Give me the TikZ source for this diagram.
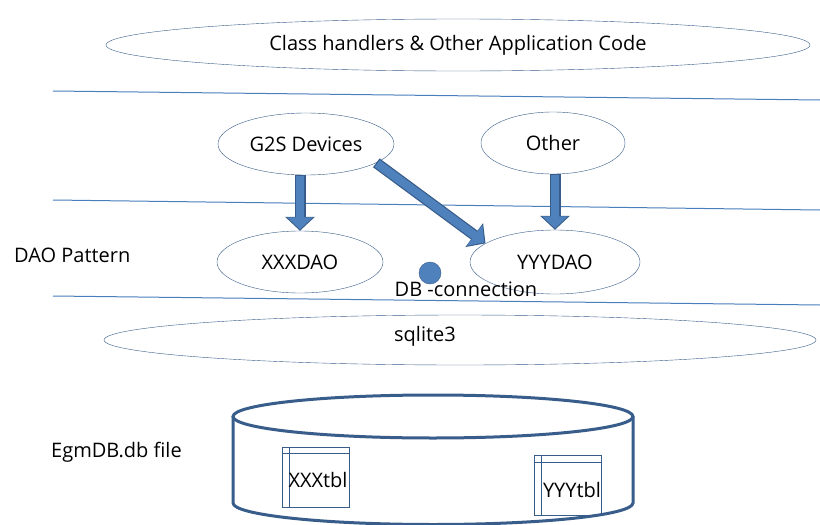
\documentclass[tikz,border=0pt]{standalone}
\usepackage{fontspec}
\setmainfont{Open Sans}
\usetikzlibrary{positioning,arrows.meta,shapes.geometric,calc}
\definecolor{lineblue}{RGB}{74,126,187}
\definecolor{edgeblue}{RGB}{56,93,138}
\definecolor{fillblue}{RGB}{79,129,189}
\tikzset{
  txt/.style={font=\fontsize{20}{24}\selectfont,inner sep=1pt},
  layer/.style={ellipse,draw=edgeblue,thin,fill=white,inner sep=0pt,txt},
  sepline/.style={lineblue,line width=1pt},
  blockout/.style={edgeblue,line width=11pt,-{Triangle[length=14pt,width=29pt]}},
  blockin/.style={fillblue,line width=8.5pt,-{Triangle[length=12pt,width=25pt]},
                  shorten >=1.5pt,shorten <=1.2pt},
  tblbox/.style={draw=edgeblue,thick,minimum width=67pt,minimum height=60pt,inner sep=0pt},
}

\begin{document}
\begin{tikzpicture}[x=1pt,y=-1pt]
\useasboundingbox (0,0) rectangle (820,525);

% ------------------------------------------------ separators
\draw[sepline] (53,91) -- (820,100);
\draw[sepline] (53,200) -- (820,210);
\draw[sepline] (53,296) -- (820,305);

% ------------------------------------------------ application layer
\node[layer,minimum width=704pt,minimum height=52pt] (app) at (458,45)
  {Class handlers \& Other Application Code};

% ------------------------------------------------ devices / DAO
\node[layer,minimum width=176pt,minimum height=62pt] (g2s) at (306,144) {G2S Devices};
\node[layer,minimum width=144pt,minimum height=62pt] (other) at (553,143) {Other};
\node[layer,minimum width=166pt,minimum height=62pt] (xxxdao) at (300,262) {XXXDAO};
\node[layer,minimum width=170pt,minimum height=64pt] (yyydao) at (555,262) {YYYDAO};
\node[txt,anchor=west] (daolbl) at (13,255) {DAO Pattern};

\node[circle,draw=edgeblue,fill=fillblue,minimum size=22pt,inner sep=0pt] (dbconn) at (430,273) {};
\node[txt,anchor=north] (dbconnlbl) at (466,281) {DB -connection};

% ------------------------------------------------ arrows
\draw[blockout] (g2s.south -| xxxdao.north) -- (xxxdao.north);
\draw[blockin]  (g2s.south -| xxxdao.north) -- (xxxdao.north);
\draw[blockout] (other.south -| yyydao.north) -- (yyydao.north);
\draw[blockin]  (other.south -| yyydao.north) -- (yyydao.north);
\draw[blockout] (g2s.-15) -- (yyydao.165);
\draw[blockin]  (g2s.-15) -- (yyydao.165);

% ------------------------------------------------ sqlite3
\node[layer,minimum width=712pt,minimum height=50pt] (sqlite) at (460,340) {};
\node[txt] (sqlitelbl) at (425,336) {sqlite3};

% ------------------------------------------------ db file
\node[txt,anchor=west] (dblbl) at (50,452) {EgmDB.db file};
\begin{scope}
\clip (0,0) rectangle (820,525);
\draw[edgeblue,line width=3pt,fill=white]
  (233,416.5) -- (233,503) arc[start angle=180,end angle=360,x radius=200pt,y radius=21.5pt]
  -- (633,416.5);
\draw[edgeblue,line width=3pt] (433,416.5) ellipse[x radius=200pt,y radius=21.5pt];
\end{scope}

\node[tblbox] (xxxtbl) at (315.5,477) {};
\draw[edgeblue,thick] ($(xxxtbl.north west)+(8,0)$) -- ($(xxxtbl.south west)+(8,0)$);
\draw[edgeblue,thick] ($(xxxtbl.north west)+(0,7)$) -- ($(xxxtbl.north east)+(0,7)$);
\node[txt] (xxxtxt) at (318,480) {XXXtbl};

\node[tblbox] (yyytbl) at (567.5,485.5) {};
\draw[edgeblue,thick] ($(yyytbl.north west)+(8,0)$) -- ($(yyytbl.south west)+(8,0)$);
\draw[edgeblue,thick] ($(yyytbl.north west)+(0,7)$) -- ($(yyytbl.north east)+(0,7)$);
\node[txt] (yyytxt) at (572,490) {YYYtbl};

\end{tikzpicture}
\end{document}
